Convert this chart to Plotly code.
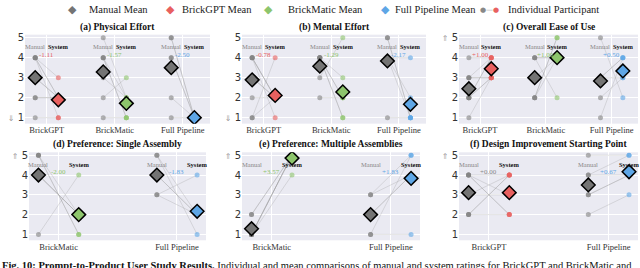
import numpy as np
import plotly.graph_objects as go

# ---------------- data ----------------
TITLES = ["(a) Physical Effort", "(b) Mental Effort", "(c) Overall Ease of Use",
          "(d) Preference: Single Assembly", "(e) Preference: Multiple Assemblies",
          "(f) Design Improvement Starting Point"]

CATS_A = ["BrickGPT", "BrickMatic", "Full Pipeline"]
CATS_B = ["BrickGPT", "BrickMatic", "Full Pipeline"]
CATS_C = ["BrickGPT", "BrickMatic", "Full Pipeline"]
CATS_D = ["BrickMatic", "Full Pipeline"]
CATS_E = ["BrickMatic", "Full Pipeline"]
CATS_F = ["BrickGPT", "Full Pipeline"]

# per-participant ratings (Manual vs System), same participant order in both lists
A_MANUAL = [[4, 4, 4, 4, 3, 3, 2, 2, 1], [5, 4, 4, 4, 3, 2, 1], [5, 5, 4, 4, 2, 1]]
A_SYSTEM = [[3, 1, 2, 2, 2, 2, 2, 2, 1], [2, 1, 1, 2, 2, 3, 1], [1, 1, 1, 1, 1, 1]]
B_MANUAL = [[4, 4, 4, 4, 3, 3, 2, 1, 1], [4, 4, 4, 4, 4, 3, 2], [5, 5, 4, 4, 4, 1]]
B_SYSTEM = [[2, 2, 2, 1, 2, 2, 2, 2, 4], [1, 2, 2, 1, 3, 5, 2], [1, 1, 2, 1, 4, 1]]
C_MANUAL = [[4, 3, 3, 3, 2, 2, 2, 2, 1], [4, 4, 4, 3, 2, 2, 2], [5, 3, 3, 3, 2, 1]]
C_SYSTEM = [[4, 3, 4, 3, 4, 3, 3, 4, 3], [4, 2, 4, 4, 5, 5, 4], [2, 4, 3, 4, 3, 4]]
D_MANUAL = [[5, 5, 5, 4, 4, 4, 1], [5, 5, 4, 4, 3, 3]]
D_SYSTEM = [[1, 2, 1, 2, 2, 2, 4], [1, 2, 2, 2, 4, 2]]
E_MANUAL = [[2, 2, 1, 1, 1, 1, 1], [3, 3, 2, 2, 1, 1]]
E_SYSTEM = [[5, 5, 5, 5, 5, 4, 5], [5, 4, 4, 4, 1, 5]]
F_MANUAL = [[4, 4, 4, 4, 3, 3, 2, 2, 2], [5, 4, 4, 3, 3, 2]]
F_SYSTEM = [[2, 2, 4, 3, 4, 3, 4, 4, 2], [5, 4, 5, 4, 4, 3]]

BETTER = ["down", "down", "up", "up", "up", "up"]
Y_TICKS = [1, 2, 3, 4, 5]

LEGEND_LABELS = ["Manual Mean", "BrickGPT Mean", "BrickMatic Mean", "Full Pipeline Mean",
                 "Individual Participant"]

CAPTION_BOLD = "Fig. 10: Prompt-to-Product User Study Results."
CAPTION_REST = " Individual and mean comparisons of manual and system ratings for BrickGPT and BrickMatic and"

# ---------------- style ----------------
SYS_COLORS = {"BrickGPT": "#E8605F", "BrickMatic": "#8DC56C", "Full Pipeline": "#5EA6E6"}
SYS_DOTS = {"BrickGPT": "rgba(232,96,95,0.6)", "BrickMatic": "rgba(141,197,108,0.6)",
            "Full Pipeline": "rgba(94,166,230,0.6)"}
MAN_COLOR = "#747474"
MAN_DOT = "rgba(130,130,130,0.6)"
LINE_COLOR = "rgba(150,150,150,0.35)"
BG = "#EAEAF2"
SERIF = "Liberation Serif"
SANS = "DejaVu Sans"
OFF = 0.17
W, H = 640, 268

ROW_Y = [(32, 122), (151, 240)]
COL_X = [[(25, 210), (242, 426), (459, 638)], [(29, 206), (242, 420), (459, 638)]]
X_RANGES = [[-0.32, 2.40], [-0.25, 1.245]]
Y_RANGE = [0.7, 5.15]

# legend layout (pixels): symbol centre, text start
LEG_SYM_X = [72, 170, 268, 385, 489]
LEG_TXT_X = [87, 180, 286, 393, 506]
LEG_Y = 7

panels = [
    (CATS_A, A_MANUAL, A_SYSTEM), (CATS_B, B_MANUAL, B_SYSTEM), (CATS_C, C_MANUAL, C_SYSTEM),
    (CATS_D, D_MANUAL, D_SYSTEM), (CATS_E, E_MANUAL, E_SYSTEM), (CATS_F, F_MANUAL, F_SYSTEM),
]

fig = go.Figure()
annotations = []
layout = {}

for i, (cats, manual, system) in enumerate(panels):
    row, col = divmod(i, 3)
    k = i + 1
    xname = "x" if k == 1 else f"x{k}"
    yname = "y" if k == 1 else f"y{k}"
    x0, x1 = COL_X[row][col]
    ytop, ybot = ROW_Y[row]
    xdom = [x0 / W, x1 / W]
    ydom = [1 - ybot / H, 1 - ytop / H]

    if BETTER[i] == "down":
        ticktext = ['<span style="font-size:8px;color:#999">⇓</span> 1', "2", "3", "4", "5"]
    else:
        ticktext = ["1", "2", "3", "4", '<span style="font-size:8px;color:#999">⇑</span> 5']

    layout["xaxis" + ("" if k == 1 else str(k))] = dict(
        domain=xdom, range=X_RANGES[row], anchor=yname,
        tickvals=list(range(len(cats))), ticktext=cats, ticks="",
        showgrid=True, gridcolor="white", gridwidth=1.3, zeroline=False, showline=False,
        tickfont=dict(family=SERIF, size=8.5, color="#333"), fixedrange=True)
    layout["yaxis" + ("" if k == 1 else str(k))] = dict(
        domain=ydom, range=Y_RANGE, anchor=xname,
        tickvals=Y_TICKS, ticktext=ticktext, ticks="",
        showgrid=True, gridcolor="white", gridwidth=1, zeroline=False, showline=False,
        tickfont=dict(family=SANS, size=10, color="#333"), fixedrange=True)

    annotations.append(dict(
        text="<b>" + TITLES[i] + "</b>", xref="paper", yref="paper",
        x=(xdom[0] + xdom[1]) / 2, y=ydom[1], xanchor="center", yanchor="bottom",
        yshift=0, showarrow=False, font=dict(family=SERIF, size=9.5, color="#111")))

    for c, name in enumerate(cats):
        m = np.array(manual[c], dtype=float)
        s = np.array(system[c], dtype=float)
        xm = c - OFF
        xs = c + OFF
        lx, ly = [], []
        for a, b in zip(m, s):
            lx += [xm, xs, None]
            ly += [a, b, None]
        fig.add_trace(go.Scatter(x=lx, y=ly, mode="lines", xaxis=xname, yaxis=yname,
                                 line=dict(color=LINE_COLOR, width=0.8),
                                 showlegend=False, hoverinfo="skip"))
        fig.add_trace(go.Scatter(x=[xm] * len(m), y=m, mode="markers", xaxis=xname, yaxis=yname,
                                 marker=dict(color=MAN_DOT, size=5), showlegend=False))
        fig.add_trace(go.Scatter(x=[xs] * len(s), y=s, mode="markers", xaxis=xname, yaxis=yname,
                                 marker=dict(color=SYS_DOTS[name], size=5), showlegend=False))
        mm, sm = m.mean(), s.mean()
        fig.add_trace(go.Scatter(x=[xm], y=[mm], mode="markers", xaxis=xname, yaxis=yname,
                                 marker=dict(symbol="diamond", size=10.5, color=MAN_COLOR,
                                             line=dict(color="black", width=1.5)),
                                 showlegend=False))
        fig.add_trace(go.Scatter(x=[xs], y=[sm], mode="markers", xaxis=xname, yaxis=yname,
                                 marker=dict(symbol="diamond", size=10.5, color=SYS_COLORS[name],
                                             line=dict(color="black", width=1.5)),
                                 showlegend=False))
        annotations.append(dict(text="Manual", x=xm, y=4.55, xref=xname, yref=yname,
                                showarrow=False, font=dict(family=SERIF, size=6.5, color="#888")))
        annotations.append(dict(text="<b>System</b>", x=xs, y=4.55, xref=xname, yref=yname,
                                showarrow=False, font=dict(family=SERIF, size=6.5, color="#111")))
        d = sm - mm
        dcol = "#888" if abs(d) < 0.005 else SYS_COLORS[name]
        annotations.append(dict(text=f"{d:+.2f}", x=c, y=4.15, xref=xname, yref=yname,
                                showarrow=False, font=dict(family=SERIF, size=7, color=dcol)))

# legend built from text so the symbols match the reference
leg_symbols = [
    f'<span style="color:{MAN_COLOR}">◆</span>',
    f'<span style="color:{SYS_COLORS["BrickGPT"]}">◆</span>',
    f'<span style="color:{SYS_COLORS["BrickMatic"]}">◆</span>',
    f'<span style="color:{SYS_COLORS["Full Pipeline"]}">◆</span>',
    f'<span style="color:#888">●</span><span style="color:#aaa">—</span>'
    f'<span style="color:{SYS_COLORS["BrickGPT"]}">●</span>',
]
for sx, tx, sym, lab in zip(LEG_SYM_X, LEG_TXT_X, leg_symbols, LEGEND_LABELS):
    size = 11 if "◆" in sym else 7
    annotations.append(dict(text=sym, xref="paper", yref="paper", x=sx / W, y=1 - LEG_Y / H,
                            xanchor="center", yanchor="middle", showarrow=False,
                            font=dict(family=SANS, size=size)))
    annotations.append(dict(text=lab, xref="paper", yref="paper", x=tx / W, y=1 - LEG_Y / H,
                            xanchor="left", yanchor="middle", showarrow=False,
                            font=dict(family=SERIF, size=10.5, color="#222")))

annotations.append(dict(text="<b>" + CAPTION_BOLD + "</b>" + CAPTION_REST,
                        xref="paper", yref="paper", x=0, y=1 - 258 / H,
                        xanchor="left", yanchor="top", showarrow=False, align="left",
                        font=dict(family=SERIF, size=10.5, color="#111")))

fig.update_layout(
    width=W, height=H, margin=dict(l=0, r=0, t=0, b=0),
    paper_bgcolor="white", plot_bgcolor=BG,
    annotations=annotations, showlegend=False,
    **layout,
)

fig.write_html("out.html", config={"displayModeBar": False},
               post_script="document.body.style.margin='0px';")
